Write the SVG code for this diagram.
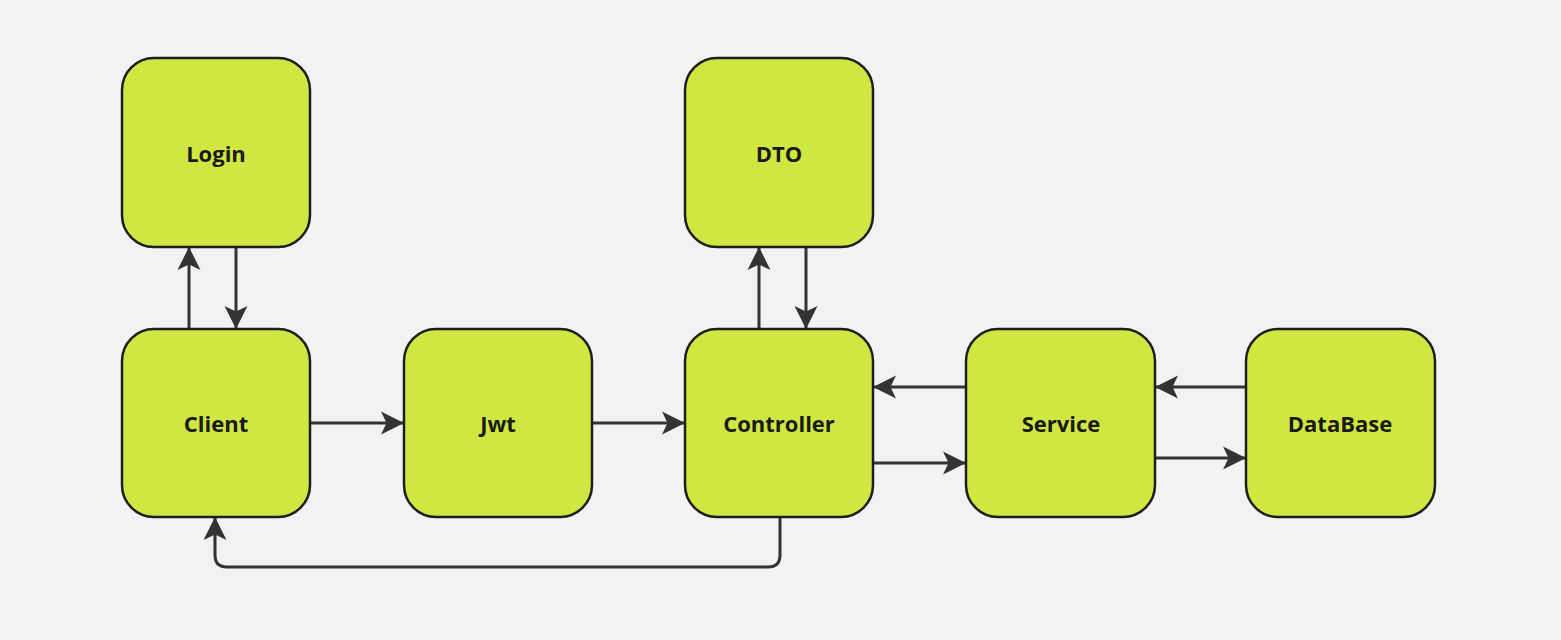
<svg xmlns="http://www.w3.org/2000/svg" width="1561" height="640" viewBox="0 0 1561 640">
<style>
.node rect{fill:#cfe740;stroke:#1e1e1e;stroke-width:2.5}
.node text{font-family:"Open Sans","Noto Sans",sans-serif;font-weight:700;font-size:22px;fill:#1a1a1a;text-anchor:middle;dominant-baseline:central}
.edges path{fill:none;stroke:#333333;stroke-width:3;marker-end:url(#arr)}
</style>
<defs>
<marker id="arr" markerUnits="userSpaceOnUse" markerWidth="26" markerHeight="26" viewBox="0 0 26 26" refX="23" refY="13" orient="auto">
<path d="M1,1.5 L24,13 L1,24.5 L6.5,13 Z" fill="#333333"/>
</marker>
</defs>
<rect width="1561" height="640" fill="#f2f2f2"/>
<g class="edges">
<path d="M189,329 V248"/>
<path d="M236,248 V328"/>
<path d="M311,423 H403"/>
<path d="M593,423 H684"/>
<path d="M759,329 V248"/>
<path d="M806,248 V328"/>
<path d="M966,387 H874"/>
<path d="M874,463 H965"/>
<path d="M1246,387 H1156"/>
<path d="M1156,458 H1245"/>
<path d="M780,518 V555 Q780,567 768,567 H227 Q215,567 215,555 V518"/>
</g>
<g id="login" class="node"><rect x="122" y="58" width="188" height="189" rx="32"/><text x="216" y="153">Login</text></g>
<g id="dto" class="node"><rect x="685" y="58" width="188" height="189" rx="32"/><text x="779" y="153">DTO</text></g>
<g id="client" class="node"><rect x="122" y="329" width="188" height="188" rx="32"/><text x="216" y="423">Client</text></g>
<g id="jwt" class="node"><rect x="404" y="329" width="188" height="188" rx="32"/><text x="498" y="423">Jwt</text></g>
<g id="controller" class="node"><rect x="685" y="329" width="188" height="188" rx="32"/><text x="779" y="423">Controller</text></g>
<g id="service" class="node"><rect x="966" y="329" width="189" height="188" rx="32"/><text x="1061" y="423">Service</text></g>
<g id="database" class="node"><rect x="1246" y="329" width="189" height="188" rx="32"/><text x="1340" y="423">DataBase</text></g>
</svg>
